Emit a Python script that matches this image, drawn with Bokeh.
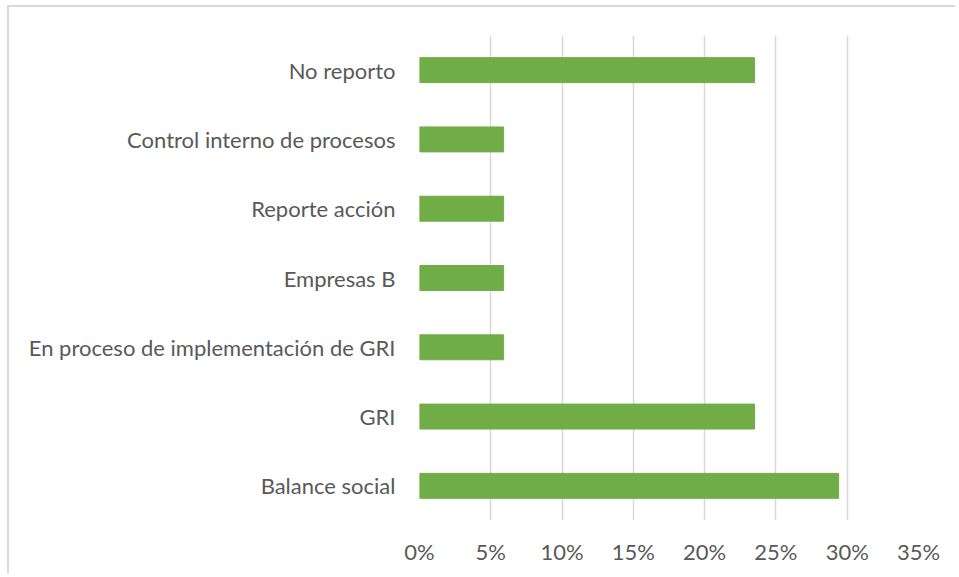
from bokeh.plotting import figure
from bokeh.models import ColumnDataSource, NumeralTickFormatter, FixedTicker
from bokeh.embed import file_html
from bokeh.resources import INLINE

categories = ["Balance social", "GRI", "En proceso de implementación de GRI",
              "Empresas B", "Reporte acción", "Control interno de procesos", "No reporto"]
values = [0.294, 0.235, 0.059, 0.059, 0.059, 0.059, 0.235]
x_ticks = [0, 0.05, 0.10, 0.15, 0.20, 0.25, 0.30, 0.35]

FONT = "Lato"
TXT = "#595959"

src = ColumnDataSource(dict(cat=categories, val=values))

p = figure(y_range=categories, x_range=(0, 0.35), width=948, height=568,
           output_backend="svg", toolbar_location=None,
           min_border_left=410, min_border_right=39, min_border_top=28, min_border_bottom=55,
           styles={"margin-top": "5px", "margin-left": "7px",
                   "border-top": "2px solid #D9D9D9", "border-left": "2px solid #D9D9D9"})
p.y_range.range_padding = 0
p.hbar(y="cat", right="val", left=0, height=0.36, source=src,
       fill_color="#70AD47", line_color="#70AD47")

p.outline_line_color = None
p.background_fill_color = "white"
p.border_fill_color = "white"

p.xaxis.ticker = FixedTicker(ticks=x_ticks)
p.xaxis.formatter = NumeralTickFormatter(format="0%")
p.xgrid.ticker = FixedTicker(ticks=x_ticks)
p.xgrid.grid_line_color = "#D9D9D9"
p.xgrid.grid_line_width = 1.5
p.ygrid.grid_line_color = None

for ax in (p.xaxis, p.yaxis):
    ax.axis_line_color = None
    ax.major_tick_line_color = None
    ax.minor_tick_line_color = None
    ax.major_label_text_font = FONT
    ax.major_label_text_font_size = "22px"
    ax.major_label_text_color = TXT

p.yaxis.major_label_standoff = 18
p.xaxis.major_label_standoff = 11

open("out.html", "w").write(file_html(p, INLINE))
